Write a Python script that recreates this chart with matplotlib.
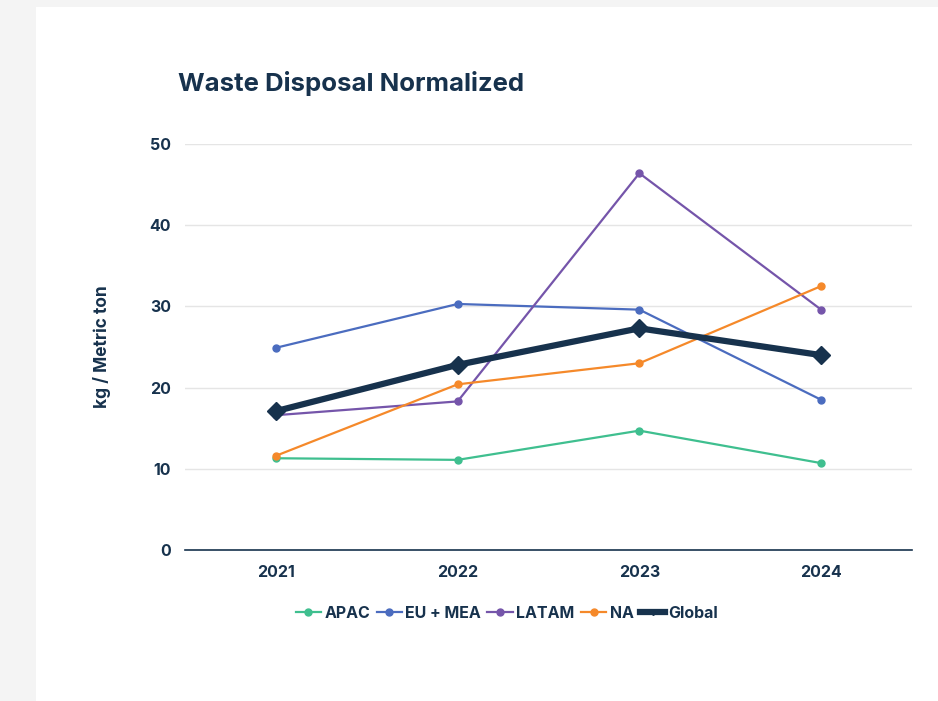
import numpy as np
import matplotlib
matplotlib.use("Agg")
import matplotlib.pyplot as plt
from matplotlib.lines import Line2D

# data
years = ["2021", "2022", "2023", "2024"]
apac = [11.3, 11.1, 14.7, 10.7]
eu_mea = [24.9, 30.3, 29.6, 18.5]
latam = [16.6, 18.3, 46.4, 29.6]
na = [11.6, 20.4, 23.0, 32.5]
global_avg = [17.1, 22.8, 27.3, 24.0]
yticks = [0, 10, 20, 30, 40, 50]

navy = "#17324d"
plt.rcParams['font.family'] = ['Inter', 'DejaVu Sans']

fig = plt.figure(figsize=(9.38, 7.01), dpi=100)
fig.patch.set_facecolor("#f4f4f4")
# white card
fig.add_artist(plt.Rectangle((36 / 938, 0), 1, 1 - 7 / 701, transform=fig.transFigure,
                             facecolor="white", edgecolor="none", zorder=0))

ax = fig.add_axes([185 / 938, 151 / 701, 727 / 938, 406 / 701])
ax.set_facecolor("none")
x = np.arange(len(years))

series = [("APAC", apac, "#3fbf8f"), ("EU + MEA", eu_mea, "#4b6cbf"),
          ("LATAM", latam, "#7555aa"), ("NA", na, "#f5892a")]
handles = []
for name, vals, col in series:
    ax.plot(x, vals, color=col, lw=1.6, marker="o", ms=5, zorder=3)
    handles.append(Line2D([], [], color=col, lw=1.6, marker="o", ms=5, label=name))
ax.plot(x, global_avg, color=navy, lw=4.5, marker="D", ms=9, zorder=4)
handles.append(Line2D([], [], color=navy, lw=4.5, marker="D", ms=3, label="Global"))

ax.set_xlim(-0.5, 3.5)
ax.set_ylim(0, 50)
ax.set_yticks(yticks)
ax.set_xticks(x)
ax.set_xticklabels(years)
ax.grid(axis="y", color="#e5e5e5", lw=1)
ax.set_axisbelow(True)
for s in ["top", "right", "left"]:
    ax.spines[s].set_visible(False)
ax.spines["bottom"].set_color(navy)
ax.spines["bottom"].set_linewidth(1.2)
ax.tick_params(length=0, colors=navy, labelsize=11.5)
ax.tick_params(axis="y", pad=10)
ax.tick_params(axis="x", pad=11)
for lab in ax.get_xticklabels() + ax.get_yticklabels():
    lab.set_fontweight("bold")

ax.set_ylabel("kg / Metric ton", fontsize=12.5, fontweight="bold", color=navy, labelpad=28)

fig.text(178 / 938, 1 - 83 / 701, "Waste Disposal Normalized", fontsize=18.5, fontweight="bold",
         color=navy, va="center", ha="left")

fig.legend(handles=handles, loc="center", bbox_to_anchor=(507 / 938, 1 - 613 / 701), ncol=5,
           frameon=False, handlelength=1.6, handletextpad=0.2, columnspacing=0.4,
           prop={"weight": "bold", "size": 11.5}, labelcolor=navy)

fig.savefig("out.png", dpi=100, facecolor=fig.get_facecolor())
